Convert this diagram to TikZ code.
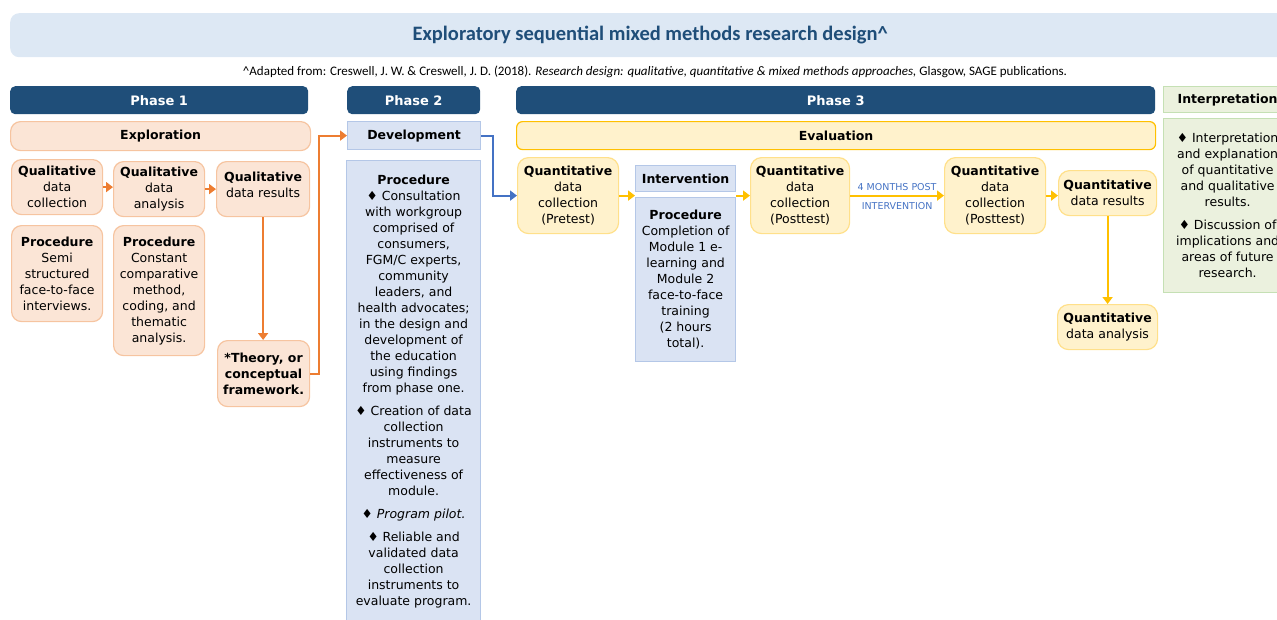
\documentclass[tikz,border=0pt]{standalone}
\usepackage{fontspec}
\setmainfont{DejaVu Sans}
\newfontfamily\titlefont{Carlito}
\usetikzlibrary{positioning,arrows.meta}

\definecolor{hdrblue}{HTML}{1F4E79}
\definecolor{titlefill}{HTML}{DDE8F4}
\definecolor{peachfill}{HTML}{FBE5D6}
\definecolor{peachline}{HTML}{F6C4A0}
\definecolor{bluefill}{HTML}{DAE3F3}
\definecolor{blueline}{HTML}{B4C7E7}
\definecolor{yelfill}{HTML}{FFF2CC}
\definecolor{yelline}{HTML}{FFE08A}
\definecolor{evalline}{HTML}{FFC000}
\definecolor{greenfill}{HTML}{EBF1DE}
\definecolor{greenline}{HTML}{C5E0B4}
\definecolor{orangearr}{HTML}{ED7D31}
\definecolor{yelarr}{HTML}{FFC000}
\definecolor{bluearr}{HTML}{4472C4}

\tikzset{
  box/.style={anchor=north west, inner sep=0pt, align=center,
    font=\fontsize{12.5}{16}\selectfont},
  phasehdr/.style={box, fill=hdrblue, rounded corners=5pt, text=white,
    font=\fontsize{13}{16}\selectfont\bfseries},
  qualbox/.style={box, fill=peachfill, draw=peachline, line width=1.2pt,
    rounded corners=10pt},
  devbox/.style={box, fill=bluefill, draw=blueline, line width=1.2pt},
  quantbox/.style={box, fill=yelfill, draw=yelline, line width=1.2pt,
    rounded corners=11pt},
  interpbox/.style={box, fill=greenfill, draw=greenline, line width=1.2pt},
  flow/.style={line width=2.2pt, -{Triangle[length=7pt,width=10pt]}},
}

\begin{document}
\begin{tikzpicture}[x=1pt, y=-1pt]
  \useasboundingbox (0,0) rectangle (1277,619);
  \clip (0,0) rectangle (1277,619);

  % title and source
  \node[box, fill=titlefill, rounded corners=9pt, minimum width=1280,
    minimum height=44, text=hdrblue] (title) at (10,13)
    {\titlefont\bfseries\fontsize{20.5}{24}\selectfont Exploratory sequential mixed methods research design\textasciicircum};
  \node (cite) at (655,72) {\titlefont\fontsize{13}{15}\selectfont
    \textasciicircum Adapted from: Creswell, J. W. \& Creswell, J. D. (2018).
    \textit{Research design: qualitative, quantitative \& mixed methods approaches,}
    Glasgow, SAGE publications.};

  % phase headers
  \node[phasehdr, minimum width=298, minimum height=28] (ph1) at (10,86) {Phase 1};
  \node[phasehdr, minimum width=133, minimum height=28] (ph2) at (347,86) {Phase 2};
  \node[phasehdr, minimum width=639, minimum height=28] (ph3) at (516,86) {Phase 3};
  \node[interpbox, minimum width=128, minimum height=26, font=\fontsize{12.5}{16}\selectfont\bfseries]
    (interphdr) at (1163,86) {Interpretation};

  \node[qualbox, minimum width=300, minimum height=29, font=\fontsize{12.5}{16}\selectfont\bfseries]
    (explore) at (10,121) {Exploration};
  \node[devbox, minimum width=133, minimum height=28, font=\fontsize{12.5}{16}\selectfont\bfseries]
    (develop) at (347,121) {Development};
  \node[quantbox, draw=evalline, rounded corners=6pt, minimum width=639, minimum height=28,
    font=\fontsize{12.5}{16}\selectfont\bfseries] (evaluate) at (516,121) {Evaluation};

  % phase 1
  \node[qualbox, minimum width=91, minimum height=55] (qualcoll) at (11,159)
    {\textbf{Qualitative}\\data\\collection};
  \node[qualbox, minimum width=91, minimum height=55] (qualanal) at (113,161)
    {\textbf{Qualitative}\\data\\analysis};
  \node[qualbox, minimum width=93, minimum height=55] (qualres) at (216,161)
    {\textbf{Qualitative}\\data results\\[-8pt]};
  \node[qualbox, minimum width=91, minimum height=96] (qualproc1) at (11,225)
    {\textbf{Procedure}\\Semi\\structured\\face-to-face\\interviews.};
  \node[qualbox, minimum width=91, minimum height=130] (qualproc2) at (113,225)
    {\textbf{Procedure}\\Constant\\comparative\\method,\\coding, and\\thematic\\analysis.};
  \node[qualbox, minimum width=92, minimum height=66, font=\fontsize{12.5}{16}\selectfont\bfseries]
    (theory) at (217,340) {*Theory, or\\conceptual\\framework.};

  % phase 2
  \node[devbox, minimum width=134, minimum height=462] (devproc) at (346,160)
    {\textbf{Procedure}\\♦ Consultation\\with workgroup\\comprised of\\consumers,\\FGM/C experts,\\community\\leaders, and\\health advocates;\\in the design and\\development of\\the education\\using findings\\from phase one.\\[7pt]
     ♦ Creation of data\\collection\\instruments to\\measure\\effectiveness of\\module.\\[7pt]
     ♦ \textit{Program pilot.}\\[7pt]
     ♦ Reliable and\\validated data\\collection\\instruments to\\evaluate program.};

  % phase 3
  \node[quantbox, minimum width=101, minimum height=76] (pretest) at (517,157)
    {\textbf{Quantitative}\\data\\collection\\(Pretest)};
  \node[devbox, minimum width=100, minimum height=26, font=\fontsize{12.5}{16}\selectfont\bfseries]
    (interv) at (635,165) {Intervention};
  \node[devbox, minimum width=100, minimum height=164] (intproc) at (635,197)
    {\textbf{Procedure}\\Completion of\\Module 1 e-\\learning and\\Module 2\\face-to-face\\training\\(2 hours\\total).};
  \node[quantbox, minimum width=99, minimum height=76] (post1) at (750,157)
    {\textbf{Quantitative}\\data\\collection\\(Posttest)};
  \node[quantbox, minimum width=101, minimum height=76] (post2) at (944,157)
    {\textbf{Quantitative}\\data\\collection\\(Posttest)};
  \node[quantbox, minimum width=98, minimum height=45] (quantres) at (1058,170)
    {\textbf{Quantitative}\\data results};
  \node[quantbox, minimum width=100, minimum height=45] (quantanal) at (1057,304)
    {\textbf{Quantitative}\\data analysis};

  % interpretation
  \node[interpbox, minimum width=128, minimum height=174] (interp) at (1163,118)
    {♦ Interpretation\\and explanation\\of quantitative\\and qualitative\\results.\\[7pt]
     ♦ Discussion of\\implications and\\areas of future\\research.};

  \coordinate (intin) at (interv.west |- pretest.east);
  \coordinate (intout) at (interv.east |- pretest.east);

  \path[flow, orangearr]
    (qualcoll.east) edge (qualcoll.east -| qualanal.west)
    (qualanal)      edge (qualres)
    (qualres.south) edge (qualres.south |- theory.north);
  \draw[flow, orangearr] (theory.east) -- ++(9,0) |- (develop.west);
  \draw[flow, bluearr] (develop.east) -- ++(12,0) |- (pretest.west);
  \path[flow, yelarr]
    (pretest.east) edge (intin)
    (intout)       edge (post1.west)
    (post1)        edge node[above=1pt, text=bluearr, font=\fontsize{9.5}{11}\selectfont] {4 MONTHS POST}
                        node[below=2pt, text=bluearr, font=\fontsize{9.5}{11}\selectfont] {INTERVENTION} (post2)
    (post2.east)   edge (post2.east -| quantres.west)
    (quantres)     edge (quantanal);
\end{tikzpicture}
\end{document}
